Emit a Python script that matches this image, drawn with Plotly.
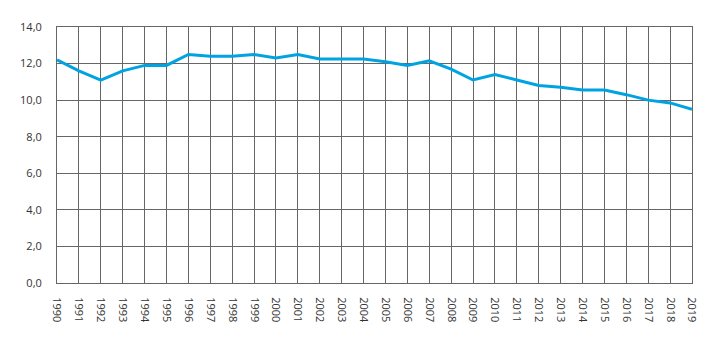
import plotly.graph_objects as go

years = list(range(1990, 2020))
values = [12.2, 11.6, 11.1, 11.6, 11.9, 11.9, 12.5, 12.4, 12.4, 12.5,
          12.3, 12.5, 12.25, 12.25, 12.25, 12.1, 11.9, 12.15, 11.7, 11.1,
          11.4, 11.1, 10.8, 10.7, 10.55, 10.55, 10.3, 10.0, 9.85, 9.5]
y_ticks = [0, 2, 4, 6, 8, 10, 12, 14]

fig = go.Figure()
fig.add_trace(go.Scatter(x=years, y=values, mode="lines",
                         line=dict(color="#00a3e2", width=3),
                         hoverinfo="skip"))

grid = "#666666"
fig.update_layout(
    width=723, height=341,
    margin=dict(l=57, r=31, t=27, b=58),
    paper_bgcolor="white", plot_bgcolor="white",
    separators=", ",
    showlegend=False,
    font=dict(family="Open Sans", size=11, color="#333333"),
)
fig.update_xaxes(
    range=[1990, 2019], tickvals=years, ticktext=[str(y) for y in years],
    tickangle=90, showgrid=True, gridcolor=grid, gridwidth=1,
    showline=True, linecolor=grid, mirror=True, zeroline=False,
    ticks="outside", ticklen=11, tickcolor="rgba(0,0,0,0)",
    tickfont=dict(size=11),
)
fig.update_yaxes(
    range=[0, 14], tickvals=y_ticks, tickformat=".1f",
    showgrid=True, gridcolor=grid, gridwidth=1,
    showline=True, linecolor=grid, mirror=True, zeroline=False,
    ticks="outside", ticklen=12, tickcolor="rgba(0,0,0,0)",
    tickfont=dict(size=11),
)
fig.write_html("out.html")
